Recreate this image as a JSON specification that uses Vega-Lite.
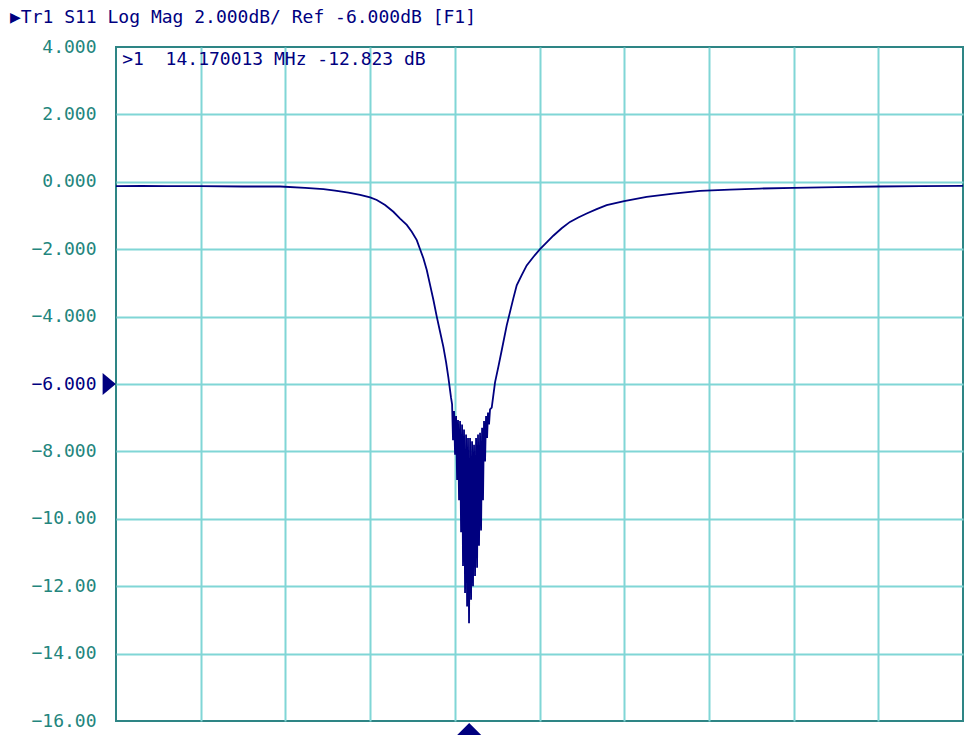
{
  "$schema": "https://vega.github.io/schema/vega-lite/v6.json",
  "autosize": {"type": "none"},
  "padding": {"left": 116, "top": 47, "right": 4, "bottom": 17},
  "width": 847,
  "height": 674,
  "background": "white",
  "title": {
    "text": "▶Tr1 S11 Log Mag 2.000dB/ Ref -6.000dB [F1]",
    "anchor": "start",
    "frame": "group",
    "dx": -106,
    "offset": 11,
    "font": "DejaVu Sans Mono",
    "fontSize": 18,
    "fontWeight": "normal",
    "color": "#00007f"
  },
  "config": {
    "view": {"stroke": "#2e8585", "strokeWidth": 2},
    "axis": {"gridColor": "#80d6d6", "gridWidth": 2, "gridOpacity": 1}
  },
  "datasets": {
    "trace": [
      {"f": 10.0, "db": -0.13}, {"f": 10.3, "db": -0.12}, {"f": 10.6, "db": -0.13}, {"f": 11.0, "db": -0.13},
      {"f": 11.5, "db": -0.14}, {"f": 11.938, "db": -0.14}, {"f": 12.233, "db": -0.18}, {"f": 12.45, "db": -0.22}, {"f": 12.587, "db": -0.26},
      {"f": 12.744, "db": -0.32}, {"f": 12.882, "db": -0.39}, {"f": 13.0, "db": -0.46}, {"f": 13.079, "db": -0.54},
      {"f": 13.177, "db": -0.69}, {"f": 13.275, "db": -0.89}, {"f": 13.354, "db": -1.09}, {"f": 13.433, "db": -1.28},
      {"f": 13.492, "db": -1.48}, {"f": 13.551, "db": -1.73}, {"f": 13.59, "db": -2.0}, {"f": 13.629, "db": -2.27},
      {"f": 13.669, "db": -2.62}, {"f": 13.708, "db": -3.06}, {"f": 13.747, "db": -3.5}, {"f": 13.787, "db": -4.0},
      {"f": 13.826, "db": -4.45}, {"f": 13.865, "db": -4.9}, {"f": 13.897, "db": -5.35}, {"f": 13.924, "db": -5.8},
      {"f": 13.955, "db": -6.4},
      {"f": 13.968, "db": -6.6}, {"f": 13.979, "db": -7.67}, {"f": 13.991, "db": -6.8}, {"f": 14.003, "db": -8.1},
      {"f": 14.015, "db": -6.95}, {"f": 14.027, "db": -8.85}, {"f": 14.038, "db": -7.07}, {"f": 14.05, "db": -9.45},
      {"f": 14.062, "db": -7.1}, {"f": 14.074, "db": -10.4}, {"f": 14.086, "db": -7.2}, {"f": 14.097, "db": -11.4},
      {"f": 14.109, "db": -7.35}, {"f": 14.121, "db": -12.2}, {"f": 14.133, "db": -7.5}, {"f": 14.145, "db": -12.6},
      {"f": 14.156, "db": -7.6}, {"f": 14.168, "db": -13.1}, {"f": 14.18, "db": -7.6}, {"f": 14.192, "db": -12.4},
      {"f": 14.204, "db": -7.7}, {"f": 14.215, "db": -12.0}, {"f": 14.227, "db": -7.8}, {"f": 14.239, "db": -11.7},
      {"f": 14.251, "db": -7.6}, {"f": 14.263, "db": -11.45}, {"f": 14.274, "db": -7.5}, {"f": 14.286, "db": -10.8},
      {"f": 14.298, "db": -7.45}, {"f": 14.31, "db": -10.35}, {"f": 14.322, "db": -7.3}, {"f": 14.333, "db": -9.45},
      {"f": 14.345, "db": -7.1}, {"f": 14.357, "db": -8.3}, {"f": 14.369, "db": -6.95}, {"f": 14.381, "db": -7.6},
      {"f": 14.392, "db": -6.85}, {"f": 14.404, "db": -7.2}, {"f": 14.416, "db": -6.75},
      {"f": 14.436, "db": -6.7}, {"f": 14.475, "db": -5.95}, {"f": 14.514, "db": -5.49}, {"f": 14.554, "db": -5.0},
      {"f": 14.613, "db": -4.26}, {"f": 14.652, "db": -3.86}, {"f": 14.691, "db": -3.46}, {"f": 14.731, "db": -3.07},
      {"f": 14.79, "db": -2.77}, {"f": 14.849, "db": -2.48}, {"f": 14.927, "db": -2.23}, {"f": 15.006, "db": -2.0},
      {"f": 15.085, "db": -1.8}, {"f": 15.163, "db": -1.6}, {"f": 15.262, "db": -1.38}, {"f": 15.36, "db": -1.19},
      {"f": 15.458, "db": -1.06}, {"f": 15.557, "db": -0.94}, {"f": 15.675, "db": -0.81}, {"f": 15.793, "db": -0.69},
      {"f": 16.0, "db": -0.57}, {"f": 16.265, "db": -0.45}, {"f": 16.579, "db": -0.35}, {"f": 16.894, "db": -0.27},
      {"f": 17.248, "db": -0.23}, {"f": 17.6, "db": -0.2}, {"f": 18.0, "db": -0.18}, {"f": 18.5, "db": -0.16},
      {"f": 19.0, "db": -0.14}, {"f": 19.5, "db": -0.13}, {"f": 20.0, "db": -0.12}
    ],
    "readout": [
      {"f": 10.074, "db": 3.61, "label": ">1\u00a0\u00a014.170013 MHz -12.823 dB"}
    ],
    "pointers": [
      {"f": 9.92, "db": -6, "shape": "M-0.6,-1L0.6,0L-0.6,1Z", "size": 484},
      {"f": 14.17, "db": -16.24, "shape": "M-1,0.5L0,-0.5L1,0.5Z", "size": 576}
    ]
  },
  "encoding": {
    "x": {
      "field": "f", "type": "quantitative",
      "scale": {"domain": [10, 20], "nice": false, "zero": false},
      "axis": {
        "title": null, "labels": false, "ticks": false, "domain": false,
        "values": [10, 11, 12, 13, 14, 15, 16, 17, 18, 19, 20],
        "gridColor": {"condition": {"test": "datum.value == 10 || datum.value == 20", "value": "transparent"}, "value": "#80d6d6"}
      }
    },
    "y": {
      "field": "db", "type": "quantitative",
      "scale": {"domain": [-16, 4], "nice": false, "zero": false},
      "axis": {
        "title": null, "ticks": false, "domain": false,
        "values": [-16, -14, -12, -10, -8, -6, -4, -2, 0, 2, 4],
        "labelExpr": "abs(datum.value) >= 10 ? format(datum.value, '.2f') : format(datum.value, '.3f')",
        "labelFont": "DejaVu Sans Mono",
        "labelFontSize": 18,
        "labelPadding": 20,
        "labelFlush": false,
        "labelOverlap": false,
        "labelColor": {"condition": {"test": "datum.value == -6", "value": "#00007f"}, "value": "#23857d"},
        "gridColor": {"condition": {"test": "datum.value == 4 || datum.value == -16", "value": "transparent"}, "value": "#80d6d6"}
      }
    }
  },
  "layer": [
    {
      "data": {"name": "trace"},
      "mark": {"type": "line", "color": "#00007f", "strokeWidth": 1.8, "clip": true},
      "encoding": {"order": {"field": "f", "type": "quantitative"}}
    },
    {
      "data": {"name": "readout"},
      "mark": {"type": "text", "align": "left", "baseline": "middle", "font": "DejaVu Sans Mono", "fontSize": 18, "color": "#00007f"},
      "encoding": {"text": {"field": "label"}}
    },
    {
      "data": {"name": "pointers"},
      "mark": {"type": "point", "filled": true, "color": "#00007f", "opacity": 1, "strokeWidth": 0},
      "encoding": {
        "shape": {"field": "shape", "type": "nominal", "scale": null},
        "size": {"field": "size", "type": "quantitative", "scale": null}
      }
    }
  ]
}
